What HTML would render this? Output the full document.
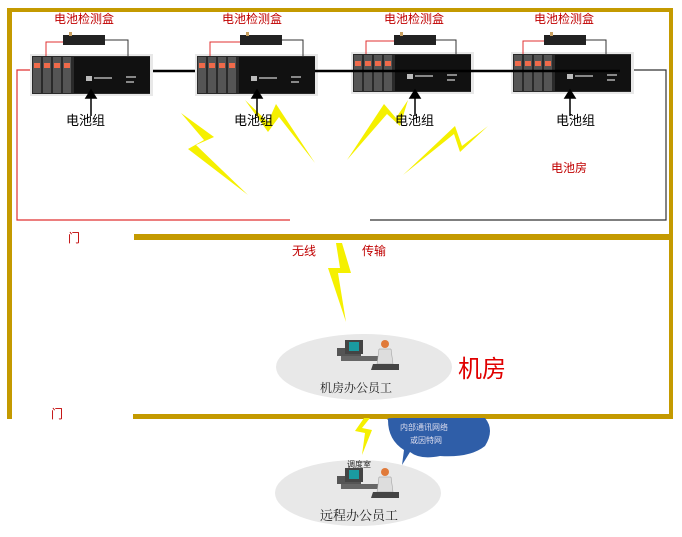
<!DOCTYPE html>
<html><head><meta charset="utf-8"><style>
html,body{margin:0;padding:0;background:#fff;}
svg{display:block;font-family:"Liberation Sans","Noto Sans CJK SC",sans-serif;}
</style></head><body>
<svg width="682" height="537" viewBox="0 0 682 537" xmlns="http://www.w3.org/2000/svg">
<defs>
<g id="bat">
  <rect x="0" y="0" width="123" height="42" fill="#e8e8e8"/>
  <rect x="2" y="2" width="118" height="38" fill="#2a2a2a"/>
  <rect x="3" y="3" width="8" height="36" fill="#555"/>
  <rect x="13" y="3" width="8" height="36" fill="#555"/>
  <rect x="23" y="3" width="8" height="36" fill="#555"/>
  <rect x="33" y="3" width="8" height="36" fill="#555"/>
  <rect x="4" y="9" width="6" height="5" fill="#f06a4a"/>
  <rect x="14" y="9" width="6" height="5" fill="#f06a4a"/>
  <rect x="24" y="9" width="6" height="5" fill="#f06a4a"/>
  <rect x="34" y="9" width="6" height="5" fill="#f06a4a"/>
  <rect x="44" y="3" width="76" height="36" fill="#111"/>
  <rect x="56" y="22" width="6" height="5" fill="#bbb"/>
  <rect x="64" y="23" width="18" height="2" fill="#888"/>
  <rect x="96" y="22" width="10" height="2" fill="#888"/>
  <rect x="96" y="27" width="8" height="2" fill="#888"/>
</g>
<g id="det">
  <rect x="0" y="0" width="42" height="10" fill="#222"/>
  <rect x="6" y="-3" width="3" height="4" fill="#c9a060"/>
</g>
<g id="worker">
  <rect x="0" y="8" width="24" height="8" fill="#555"/>
  <rect x="8" y="0" width="18" height="14" fill="#444"/>
  <rect x="12" y="2" width="10" height="9" fill="#1a9aa0"/>
  <rect x="4" y="16" width="40" height="5" fill="#666"/>
  <circle cx="48" cy="4" r="4" fill="#e07a3a"/>
  <path d="M42 9 L54 9 L56 24 L40 24 Z" fill="#ddd" stroke="#999" stroke-width="0.5"/>
  <path d="M36 24 L62 24 L62 30 L34 30 Z" fill="#444"/>
</g>
</defs>

<!-- walls -->
<rect x="7" y="8" width="666" height="4" fill="#c49a00"/>
<rect x="7" y="8" width="5" height="411" fill="#c49a00"/>
<rect x="669" y="8" width="4" height="411" fill="#c49a00"/>
<rect x="134" y="234" width="539" height="6" fill="#c49a00"/>
<rect x="133" y="414" width="540" height="5" fill="#c49a00"/>

<!-- lightning -->
<g fill="#f5f000">
<polygon points="181,113 214,137 196,145 248,195 188,149 204,140"/>
<polygon points="245,100 268,122 276,104 315,163 279,117 268,132"/>
<polygon points="347,160 384,104 396,118 408,100 400,126 387,114"/>
<polygon points="403,175 455,126 462,146 488,126 460,152 454,134"/>
<polygon points="336,243 342,243 351,273 338,273 346,322 328,268 340,268"/>
<polygon points="364,418 370,418 362,428 372,430 362,455 365,433 355,431"/>
</g>

<!-- wiring -->
<polyline points="30,70 17,70 17,220 290,220" fill="none" stroke="#e03030" stroke-width="1.2"/>
<polyline points="370,220 666,220 666,70 620,70" fill="none" stroke="#333" stroke-width="1.2"/>
<line x1="150" y1="71" x2="198" y2="71" stroke="#000" stroke-width="2.5"/>

<!-- batteries -->
<use href="#bat" x="30" y="54"/>
<use href="#bat" x="195" y="54"/>
<use href="#bat" x="351" y="52"/>
<use href="#bat" x="511" y="52"/>
<line x1="315" y1="71" x2="620" y2="71" stroke="#000" stroke-width="2.5"/>
<use href="#det" x="63" y="35"/>
<use href="#det" x="240" y="35"/>
<use href="#det" x="394" y="35"/>
<use href="#det" x="544" y="35"/>
<polyline points="46,56 46,42 63,42" fill="none" stroke="#e03030"/>
<polyline points="105,40 128,40 128,56" fill="none" stroke="#333"/>
<polyline points="210,56 210,42 240,42" fill="none" stroke="#e03030"/>
<polyline points="282,40 303,40 303,56" fill="none" stroke="#333"/>
<polyline points="366,54 366,41 394,41" fill="none" stroke="#e03030"/>
<polyline points="436,40 456,40 456,54" fill="none" stroke="#333"/>
<polyline points="523,54 523,41 544,41" fill="none" stroke="#e03030"/>
<polyline points="586,40 606,40 606,54" fill="none" stroke="#333"/>

<!-- arrows -->
<g stroke="#000" stroke-width="1.5" fill="#000">
<line x1="91" y1="116" x2="91" y2="97"/><path d="M86 98 L91 90 L96 98 Z"/>
<line x1="257" y1="116" x2="257" y2="97"/><path d="M252 98 L257 90 L262 98 Z"/>
<line x1="415" y1="116" x2="415" y2="97"/><path d="M410 98 L415 90 L420 98 Z"/>
<line x1="570" y1="116" x2="570" y2="97"/><path d="M565 98 L570 90 L575 98 Z"/>
</g>

<!-- labels -->
<g fill="#c00000" font-size="12">
<text x="54" y="23">电池检测盒</text>
<text x="222" y="23">电池检测盒</text>
<text x="384" y="23">电池检测盒</text>
<text x="534" y="23">电池检测盒</text>
<text x="551" y="172">电池房</text>
<text x="292" y="255">无线</text>
<text x="362" y="255">传输</text>
<text x="68" y="242">门</text>
<text x="51" y="418">门</text>
</g>
<g fill="#000" font-size="13">
<text x="66" y="125">电池组</text>
<text x="234" y="125">电池组</text>
<text x="395" y="125">电池组</text>
<text x="556" y="125">电池组</text>
</g>
<text x="458" y="377" fill="#e00000" font-size="24">机房</text>

<!-- ellipses -->
<ellipse cx="364" cy="367" rx="88" ry="33" fill="#e8e8e8"/>
<use href="#worker" x="337" y="340"/>
<text x="320" y="392" font-size="12" fill="#222" font-family="'Noto Serif CJK SC',serif">机房办公员工</text>
<ellipse cx="358" cy="493" rx="83" ry="33" fill="#e8e8e8"/>
<use href="#worker" x="337" y="468"/>
<text x="347" y="467" font-size="8" fill="#222">调度室</text>
<text x="320" y="520" font-size="13" fill="#222" font-family="'Noto Serif CJK SC',serif">远程办公员工</text>

<!-- cloud -->
<path d="M388 420 Q385 418 395 418 L485 418 Q495 430 485 446 Q470 458 440 456 Q420 460 410 452 L402 465 L404 450 Q388 440 388 420 Z" fill="#2f5ea8"/>
<text x="400" y="430" font-size="8" fill="#dde">内部通讯网络</text>
<text x="410" y="443" font-size="8" fill="#dde">或因特网</text>
</svg>
</body></html>
